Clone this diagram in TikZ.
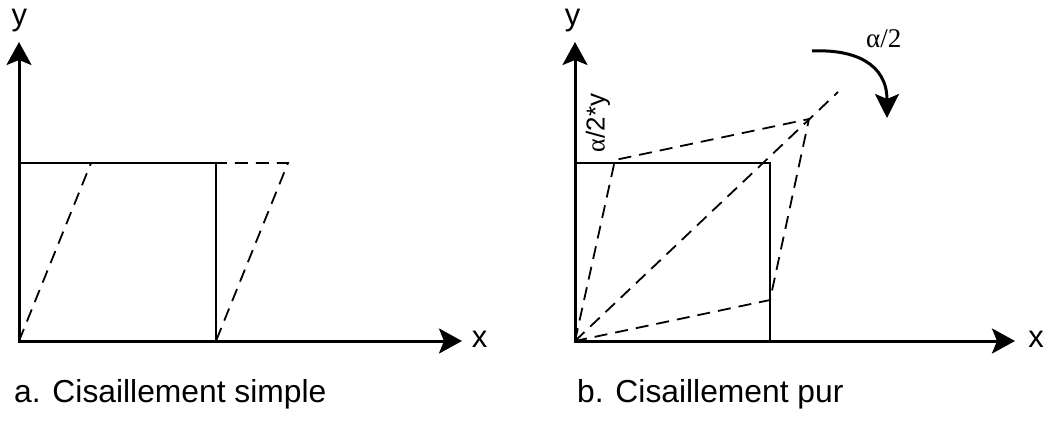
\documentclass[tikz,border=0pt]{standalone}
\usepackage{fontspec}
\setmainfont{Liberation Sans}
\newfontfamily\serifgreek{Liberation Serif}
\usetikzlibrary{arrows.meta}
\begin{document}
\begin{tikzpicture}[x=1pt,y=-1pt,
  axisline/.style={line width=3pt, -{Stealth[length=23pt,width=25pt,inset=5pt]}},
  solidline/.style={line width=2pt},
  dashline/.style={line width=1.8pt, dash pattern=on 13pt off 8pt},
  rotarrow/.style={line width=3pt, -{Stealth[length=24pt,width=24pt,inset=5pt]}},
  axlabel/.style={font=\fontsize{31}{36}\selectfont, inner sep=0pt},
  caption/.style={font=\fontsize{31.8}{36}\selectfont, inner sep=0pt, anchor=base west},
  anglabel/.style={font=\serifgreek\fontsize{27}{30}\selectfont, inner sep=0pt, anchor=base west}]
\useasboundingbox (0,0) rectangle (1046,422);

% ---------- panel a ----------
\coordinate (Ao) at (19,341);
\coordinate (Aoy) at (19,342.5);
\coordinate (Aox) at (17.5,341);
\coordinate (Ay) at (19,42);
\coordinate (Ax) at (462,341);
\coordinate (Atl) at (19,163);
\coordinate (Atr) at (216,163);
\coordinate (Abr) at (216,341);
\coordinate (Ad1) at (91,163);
\coordinate (Ad2) at (288,163);

\draw[solidline] (Atl) -- (Atr) -- (Abr);
\draw[dashline] (Ao) -- (Ad1) -- (Ad2) -- (Abr);
\draw[axisline] (Aoy) -- (Ay);
\draw[axisline] (Aox) -- (Ax);
\node[axlabel, anchor=base] (ylA) at (19.5,26) {y};
\node[axlabel, anchor=base] (xlA) at (479.5,347.5) {x};
\node[caption] (capA) at (14,402) {a. Cisaillement simple};

% ---------- panel b ----------
\coordinate (Bo) at (575,341);
\coordinate (Boy) at (575,342.5);
\coordinate (Box) at (573.5,341);
\coordinate (By) at (575,42);
\coordinate (Bx) at (1015,341);
\coordinate (Btl) at (575,163);
\coordinate (Btr) at (770,163);
\coordinate (Bbr) at (770,341);
\coordinate (P1) at (615,160);
\coordinate (P2) at (809,119);
\coordinate (P3) at (770,300);
\coordinate (PE) at (838,92);

\draw[solidline] (Btl) -- (Btr) -- (Bbr);
\draw[dashline] (Bo) -- (P1) -- (P2) -- (P3) -- (Bo);
\draw[dashline] (Bo) -- (PE);
\draw[axisline] (Boy) -- (By);
\draw[axisline] (Box) -- (Bx);
\node[axlabel, anchor=base] (ylB) at (572.5,26) {y};
\node[axlabel, anchor=base] (xlB) at (1036,347.5) {x};
\node[caption] (capB) at (577,402) {b. Cisaillement pur};

% rotation arrow
\coordinate (Rs) at (812,51);
\coordinate (Re) at (887,118);
\draw[rotarrow] (Rs) .. controls (855,49) and (887,64) .. (Re);
\node[anglabel] (alpha) at (866,48) {α/2};

% rotated label
\node[font=\fontsize{26}{30}\selectfont, inner sep=0pt, rotate=90] (shear) at (598,123) {{\serifgreek α}/2*y};
\end{tikzpicture}
\end{document}
